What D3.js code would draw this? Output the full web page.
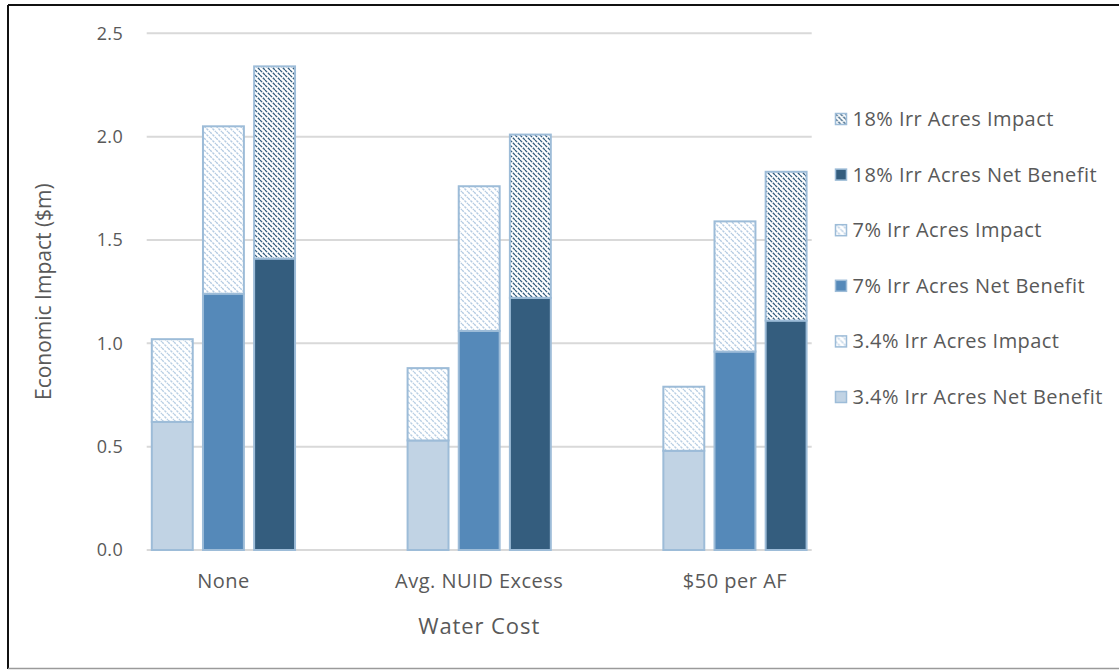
<!DOCTYPE html>
<html>
<head>
<meta charset="utf-8">
<script src="https://cdn.jsdelivr.net/npm/d3@7"></script>
<style>
  html, body { margin: 0; padding: 0; background: #fff; }
  svg { display: block; }
  text { font-family: "Open Sans", Lato, sans-serif; fill: #595959; }
</style>
</head>
<body>
<svg id="chart" width="1119" height="671"></svg>
<script>
// Water cost scenarios along the x axis
const categories = ["None", "Avg. NUID Excess", "$50 per AF"];
// Irrigated-acre scenarios, one clustered column per scenario
const scenarios = ["3.4%", "7%", "18%"];
// Net benefit ($m) per water cost, ordered by scenario
const netBenefit3_4 = [0.62, 0.53, 0.48];
const netBenefit7 = [1.24, 1.06, 0.96];
const netBenefit18 = [1.41, 1.22, 1.11];
// Additional impact ($m) stacked on top of net benefit
const impact3_4 = [0.40, 0.35, 0.31];
const impact7 = [0.81, 0.70, 0.63];
const impact18 = [0.93, 0.79, 0.72];
const yTicks = [0, 0.5, 1.0, 1.5, 2.0, 2.5];
const legendLabels = [
  "18% Irr Acres Impact",
  "18% Irr Acres Net Benefit",
  "7% Irr Acres Impact",
  "7% Irr Acres Net Benefit",
  "3.4% Irr Acres Impact",
  "3.4% Irr Acres Net Benefit"
];

const netSeries = [netBenefit3_4, netBenefit7, netBenefit18];
const impactSeries = [impact3_4, impact7, impact18];

const svg = d3.select("#chart");

// Pattern and colour definitions
const fills = ["#c1d3e4", "#5589b9", "#345d7e"];
const border = "#9dbcd8";
const defs = svg.append("defs");
function hatch(id, size, color, width, dash) {
  const p = defs.append("pattern")
    .attr("id", id)
    .attr("patternUnits", "userSpaceOnUse")
    .attr("width", size).attr("height", size);
  p.append("rect").attr("width", size).attr("height", size).attr("fill", "#fff");
  [-size, 0, size].forEach(dx => {
    p.append("line")
      .attr("x1", dx).attr("y1", 0)
      .attr("x2", dx + size).attr("y2", size)
      .attr("stroke", color)
      .attr("stroke-width", width)
      .attr("stroke-dasharray", dash);
  });
}
hatch("hatchLight", 6, "#b9cfe4", 1.4, "2.5,1");
hatch("hatchMid", 6, "#b4cbe2", 1.4, "2.5,1");
hatch("hatchDark", 5, "#345d7e", 1.3, "3,1");
const impactFills = ["url(#hatchLight)", "url(#hatchMid)", "url(#hatchDark)"];

// Outer frame
svg.append("line").attr("x1", 8).attr("y1", 5).attr("x2", 1119).attr("y2", 5)
  .attr("stroke", "#111").attr("stroke-width", 2);
svg.append("line").attr("x1", 8).attr("y1", 5).attr("x2", 8).attr("y2", 669)
  .attr("stroke", "#111").attr("stroke-width", 2);
svg.append("line").attr("x1", 8).attr("y1", 668.5).attr("x2", 1119).attr("y2", 668.5)
  .attr("stroke", "#9a9a9a").attr("stroke-width", 1.5);

// Plot area
const plot = { left: 146.7, right: 811.7, top: 33.3, bottom: 550 };

const y = d3.scaleLinear().domain([0, 2.5]).range([plot.bottom, plot.top]);

// 13 slots: three clusters of three columns separated by two empty slots
const slotCount = categories.length * 5 - 2;
const x = d3.scaleBand()
  .domain(d3.range(slotCount))
  .range([plot.left, plot.right])
  .paddingInner(0.2)
  .paddingOuter(0.1);

// Gridlines
svg.append("g")
  .selectAll("line")
  .data(yTicks)
  .join("line")
  .attr("x1", plot.left).attr("x2", plot.right)
  .attr("y1", d => y(d)).attr("y2", d => y(d))
  .attr("stroke", "#d9d9d9").attr("stroke-width", 2);

// Y axis labels
const yAxis = d3.axisLeft(y).tickValues(yTicks).tickFormat(d3.format(".1f")).tickSize(0).tickPadding(0);
const gy = svg.append("g").attr("transform", `translate(123,0)`).call(yAxis);
gy.select(".domain").remove();
gy.selectAll("text")
  .style("font-size", "18px")
  .style("font-family", "'Open Sans', sans-serif")
  .style("letter-spacing", "0.3px")
  .attr("fill", "#595959");

// Bars
const bars = [];
categories.forEach((c, i) => {
  scenarios.forEach((s, j) => {
    const slot = i * 5 + j;
    const net = netSeries[j][i];
    const imp = impactSeries[j][i];
    bars.push({ slot, y0: 0, y1: net, fill: fills[j] });
    bars.push({ slot, y0: net, y1: net + imp, fill: impactFills[j] });
  });
});

svg.append("g")
  .selectAll("rect")
  .data(bars)
  .join("rect")
  .attr("x", d => x(d.slot))
  .attr("width", x.bandwidth())
  .attr("y", d => y(d.y1))
  .attr("height", d => y(d.y0) - y(d.y1))
  .attr("fill", d => d.fill)
  .attr("stroke", border)
  .attr("stroke-width", 2);

// Category labels, centred under each cluster
svg.append("g")
  .selectAll("text")
  .data(categories)
  .join("text")
  .attr("x", (d, i) => x(i * 5 + 1) + x.bandwidth() / 2)
  .attr("y", 588)
  .attr("text-anchor", "middle")
  .style("font-size", "20px")
  .style("letter-spacing", "0.5px")
  .text(d => d);

// Axis titles
svg.append("text")
  .attr("x", (plot.left + plot.right) / 2)
  .attr("y", 634)
  .attr("text-anchor", "middle")
  .style("font-size", "22px")
  .style("letter-spacing", "0.9px")
  .text("Water Cost");

svg.append("text")
  .attr("transform", `translate(51,${(plot.top + plot.bottom) / 2 - 0}) rotate(-90)`)
  .attr("text-anchor", "middle")
  .style("font-size", "21px")
  .text("Economic Impact ($m)");

// Legend
const legendFills = [impactFills[2], fills[2], impactFills[1], fills[1], impactFills[0], fills[0]];
const lg = svg.append("g")
  .selectAll("g")
  .data(legendLabels)
  .join("g")
  .attr("transform", (d, i) => `translate(835.5,${119 + i * 55.6})`);
lg.append("rect")
  .attr("x", 0).attr("y", -5.5)
  .attr("width", 11).attr("height", 11)
  .attr("fill", (d, i) => legendFills[i])
  .attr("stroke", border).attr("stroke-width", 1.5);
lg.append("text")
  .attr("x", 17).attr("y", 0)
  .attr("dy", "0.35em")
  .style("font-size", "20px")
  .style("letter-spacing", "0.45px")
  .text(d => d);
</script>
</body>
</html>
